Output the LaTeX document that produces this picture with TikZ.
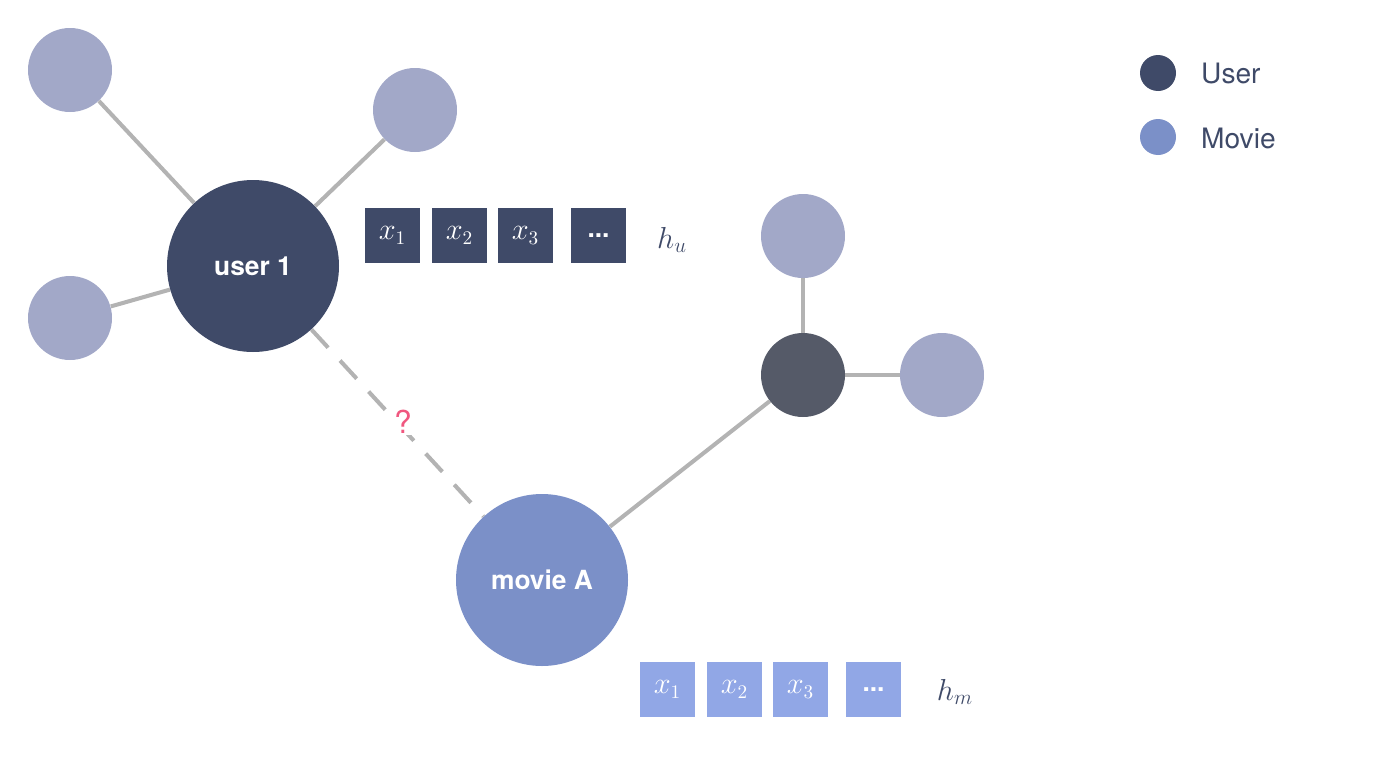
\documentclass[tikz,border=0pt]{standalone}
\usepackage{fontspec}
\usetikzlibrary{backgrounds}
\setmainfont{TeX Gyre Heros}
\begin{document}
\definecolor{ucol}{HTML}{3F4A68}
\definecolor{mcol}{HTML}{7B90C8}
\definecolor{leaf}{HTML}{A2A8C8}
\definecolor{dnode}{HTML}{555A68}
\definecolor{mbox}{HTML}{91A7E6}
\definecolor{edge}{HTML}{B3B3B3}
\definecolor{qcol}{HTML}{F0577F}
\begin{tikzpicture}[x=0.02cm,y=-0.02cm,
  lf/.style={circle,fill=leaf,minimum size=84*0.02cm,inner sep=0},
  big/.style={circle,minimum size=172*0.02cm,inner sep=0,text=white,font=\fontsize{15}{18}\selectfont\bfseries},
  ed/.style={draw=edge,line width=2.3pt},
  bx/.style={minimum size=55*0.02cm,inner sep=0,text=white,font=\fontsize{16}{18}\selectfont},
  lg/.style={circle,minimum size=36*0.02cm,inner sep=0},
  lt/.style={anchor=west,text=ucol,font=\fontsize{16}{19}\selectfont}]
\useasboundingbox (0,0) rectangle (1400,764);
\node[lf] (l1) at (70,70) {};
\node[lf] (l2) at (415,110) {};
\node[lf] (l3) at (70,318) {};
\node[lf] (l4) at (803,236) {};
\node[lf] (l5) at (942,375) {};
\node[big,fill=ucol] (u) at (253,266) {user 1};
\node[big,fill=mcol] (m) at (542,580) {movie A};
\node[circle,fill=dnode,minimum size=84*0.02cm,inner sep=0] (d) at (803,375) {};
\node[fill=white,inner sep=1pt,text=qcol,font=\fontsize{18}{20}\selectfont] (q) at (403,422) {?};
\begin{scope}[on background layer]
\draw[ed] (u) -- (l1); \draw[ed] (u) -- (l2); \draw[ed] (u) -- (l3);
\draw[ed] (d) -- (l4); \draw[ed] (d) -- (l5); \draw[ed] (m) -- (d);
\draw[ed,dash pattern=on 14pt off 10pt] (u) -- (m);
\end{scope}
\node[bx,fill=ucol] (u1) at (392.5,235.5) {$x_1$};
\node[bx,fill=ucol] (u2) at (459.5,235.5) {$x_2$};
\node[bx,fill=ucol] (u3) at (525.5,235.5) {$x_3$};
\node[bx,fill=ucol,font=\fontsize{15}{18}\selectfont\bfseries] (u4) at (598.5,235.5) {...};
\node[text=ucol,font=\fontsize{18}{20}\selectfont] (hu) at (672,240) {$h_u$};
\node[bx,fill=mbox] (m1) at (667.5,689.5) {$x_1$};
\node[bx,fill=mbox] (m2) at (734.5,689.5) {$x_2$};
\node[bx,fill=mbox] (m3) at (800.5,689.5) {$x_3$};
\node[bx,fill=mbox,font=\fontsize{15}{18}\selectfont\bfseries] (m4) at (873.5,689.5) {...};
\node[text=ucol,font=\fontsize{18}{20}\selectfont] (hm) at (955,692) {$h_m$};
\node[lg,fill=ucol] (lgu) at (1158,73) {};
\node[lg,fill=mcol] (lgm) at (1158,137) {};
\node[lt] (tu) at (1195,74) {User};
\node[lt] (tm) at (1195,138) {Movie};
\end{tikzpicture}
\end{document}
